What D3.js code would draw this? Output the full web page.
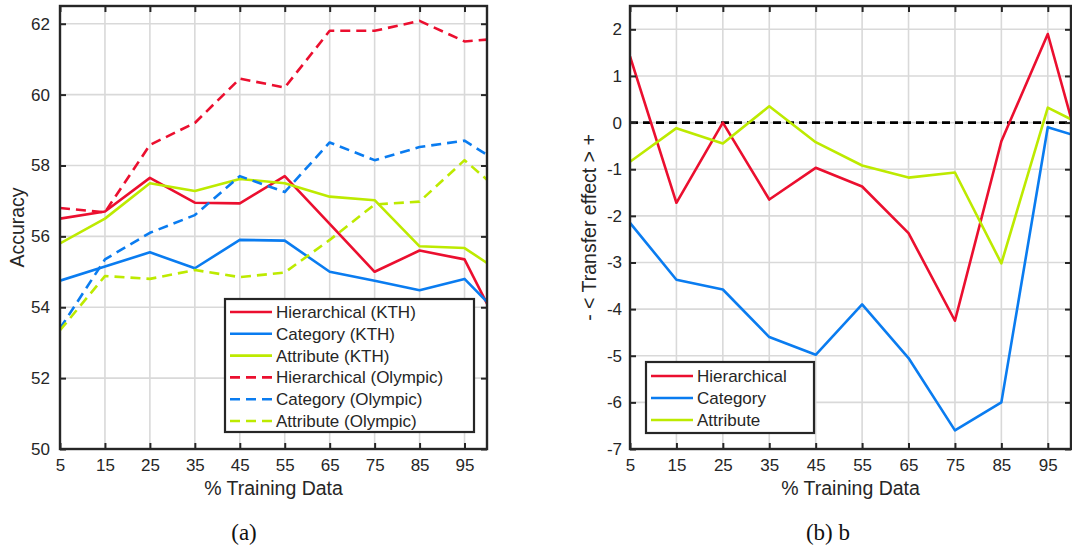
<!DOCTYPE html>
<html>
<head>
<meta charset="utf-8">
<script src="https://cdn.jsdelivr.net/npm/d3@7"></script>
<style>
  html, body { margin: 0; padding: 0; background: #fff; }
  svg { display: block; }
  text { font-family: "Liberation Sans", Arial, sans-serif; fill: #262626; }
  text.caption { font-family: "Liberation Serif", "Times New Roman", serif; fill: #111; }
</style>
</head>
<body>
<svg id="chart" width="1072" height="554"></svg>
<script>
// Training-set sizes (%)
const trainPct = [5, 15, 25, 35, 45, 55, 65, 75, 85, 95, 100];
const xTicks = [5, 15, 25, 35, 45, 55, 65, 75, 85, 95];

// (a) accuracy per model
const hierKTH   = [56.5, 56.7, 57.65, 56.95, 56.93, 57.7, 56.35, 55.0, 55.6, 55.35, 54.1];
const catKTH    = [54.75, 55.15, 55.55, 55.1, 55.9, 55.88, 55.0, 54.75, 54.48, 54.8, 54.15];
const attrKTH   = [55.8, 56.5, 57.5, 57.28, 57.62, 57.5, 57.12, 57.02, 55.72, 55.67, 55.25];
const hierOly   = [56.8, 56.68, 58.58, 59.2, 60.45, 60.2, 61.8, 61.8, 62.08, 61.5, 61.55];
const catOly    = [53.4, 55.35, 56.1, 56.6, 57.7, 57.25, 58.65, 58.15, 58.52, 58.7, 58.3];
const attrOly   = [53.35, 54.88, 54.8, 55.05, 54.85, 54.98, 55.9, 56.9, 56.98, 58.15, 57.6];
const accTicks  = [50, 52, 54, 56, 58, 60, 62];

// (b) transfer effect per model
const hierEffect = [1.42, -1.72, 0.0, -1.65, -0.97, -1.37, -2.37, -4.25, -0.4, 1.9, 0.1];
const catEffect  = [-2.15, -3.37, -3.58, -4.6, -4.98, -3.9, -5.05, -6.6, -6.0, -0.1, -0.25];
const attrEffect = [-0.84, -0.12, -0.45, 0.35, -0.42, -0.92, -1.18, -1.07, -3.02, 0.32, 0.07];
const effectTicks = [-7, -6, -5, -4, -3, -2, -1, 0, 1, 2];

const RED = "#eb0f2f", BLUE = "#0a7cf0", GREEN = "#bdea00";
const AXIS = "#262626", GRID = "#d9d9d9";

const svg = d3.select("#chart");

function drawPanel(cfg) {
  const { left, right, top, bottom, xDomain, yDomain, yTicks, series, yLabel, yLabelX, tickGap, clipId } = cfg;
  const x = d3.scaleLinear().domain(xDomain).range([left, right]);
  const y = d3.scaleLinear().domain(yDomain).range([bottom, top]);
  const g = svg.append("g");

  // grid
  g.append("g").selectAll("line").data(xTicks).join("line")
    .attr("x1", d => x(d)).attr("x2", d => x(d))
    .attr("y1", top).attr("y2", bottom)
    .attr("stroke", GRID).attr("stroke-width", 1.6);
  g.append("g").selectAll("line").data(yTicks).join("line")
    .attr("x1", left).attr("x2", right)
    .attr("y1", d => y(d)).attr("y2", d => y(d))
    .attr("stroke", GRID).attr("stroke-width", 1.6);

  // clip to plotting box
  svg.append("clipPath").attr("id", clipId)
    .append("rect").attr("x", left).attr("y", top)
    .attr("width", right - left).attr("height", bottom - top);

  const plot = g.append("g").attr("clip-path", `url(#${clipId})`);
  if (cfg.zeroLine) {
    plot.append("line")
      .attr("x1", left).attr("x2", right)
      .attr("y1", y(0)).attr("y2", y(0))
      .attr("stroke", "#000").attr("stroke-width", 2.6)
      .attr("stroke-dasharray", "8,5");
  }
  const line = d3.line().x((d, i) => x(trainPct[i])).y(d => y(d));
  series.forEach(s => {
    plot.append("path").datum(s.values)
      .attr("d", line)
      .attr("fill", "none")
      .attr("stroke", s.color)
      .attr("stroke-width", 2.6)
      .attr("stroke-linejoin", "round")
      .attr("stroke-dasharray", s.dashed ? "10,6" : null);
  });

  // box frame with inward ticks on all sides
  const axG = g.append("g");
  const xb = d3.axisBottom(x).tickValues(xTicks).tickSizeInner(-6).tickSizeOuter(0).tickPadding(10).tickFormat(d3.format("d"));
  const xt = d3.axisTop(x).tickValues(xTicks).tickSizeInner(-6).tickSizeOuter(0).tickFormat("");
  const yl = d3.axisLeft(y).tickValues(yTicks).tickSizeInner(-6).tickSizeOuter(0).tickPadding(tickGap)
    .tickFormat(d => (d < 0 ? "-" + Math.abs(d) : String(d)));
  const yr = d3.axisRight(y).tickValues(yTicks).tickSizeInner(-6).tickSizeOuter(0).tickFormat("");
  [[xb, `translate(0,${bottom})`], [xt, `translate(0,${top})`], [yl, `translate(${left},0)`], [yr, `translate(${right},0)`]]
    .forEach(([ax, tr]) => {
      const a = axG.append("g").attr("transform", tr).call(ax);
      a.select(".domain").remove();
      a.selectAll(".tick line").attr("stroke", AXIS).attr("stroke-width", 2);
      a.selectAll(".tick text").attr("font-size", 17).attr("fill", AXIS)
        .attr("font-family", "'Liberation Sans', Arial, sans-serif");
    });
  axG.append("rect").attr("x", left).attr("y", top)
    .attr("width", right - left).attr("height", bottom - top)
    .attr("fill", "none").attr("stroke", AXIS).attr("stroke-width", 2.4);

  // axis titles
  g.append("text").attr("x", (left + right) / 2).attr("y", 495)
    .attr("text-anchor", "middle").attr("font-size", 19.5).text("% Training Data");
  g.append("text")
    .attr("transform", `translate(${yLabelX},${(top + bottom) / 2}) rotate(-90)`)
    .attr("text-anchor", "middle").attr("dy", "0.35em")
    .attr("font-size", 19.5).text(yLabel);

  // legend
  const L = cfg.legend;
  const lg = g.append("g");
  lg.append("rect").attr("x", L.x).attr("y", L.y).attr("width", L.w).attr("height", L.h)
    .attr("fill", "#fff").attr("stroke", AXIS).attr("stroke-width", 2.2);
  series.forEach((s, i) => {
    const cy = L.y + L.first + i * L.step;
    lg.append("line").attr("x1", L.x + 5).attr("x2", L.x + 47)
      .attr("y1", cy).attr("y2", cy)
      .attr("stroke", s.color).attr("stroke-width", 2.6)
      .attr("stroke-dasharray", s.dashed ? "10,6" : null);
    lg.append("text").attr("x", L.x + 51).attr("y", cy).attr("dy", "0.35em")
      .attr("font-size", 17).text(s.name);
  });

  // sub-caption
  g.append("text").attr("class", "caption")
    .attr("x", cfg.captionX).attr("y", 540)
    .attr("text-anchor", "middle")
    .attr("font-size", 23).text(cfg.caption);
}

drawPanel({
  left: 60, right: 487, top: 6, bottom: 449,
  xDomain: [5, 100], yDomain: [50, 62.5], yTicks: accTicks,
  yLabel: "Accuracy", yLabelX: 17, tickGap: 10, clipId: "clipA",
  series: [
    { name: "Hierarchical (KTH)", values: hierKTH, color: RED },
    { name: "Category (KTH)", values: catKTH, color: BLUE },
    { name: "Attribute (KTH)", values: attrKTH, color: GREEN },
    { name: "Hierarchical (Olympic)", values: hierOly, color: RED, dashed: true },
    { name: "Category (Olympic)", values: catOly, color: BLUE, dashed: true },
    { name: "Attribute (Olympic)", values: attrOly, color: GREEN, dashed: true }
  ],
  legend: { x: 225, y: 299, w: 249, h: 133, first: 13, step: 21.8 },
  caption: "(a)", captionX: 244
});

drawPanel({
  left: 630, right: 1071, top: 6, bottom: 449,
  xDomain: [5, 100], yDomain: [-7, 2.5], yTicks: effectTicks,
  yLabel: "- < Transfer effect > +", yLabelX: 589, tickGap: 8, clipId: "clipB",
  zeroLine: true,
  series: [
    { name: "Hierarchical", values: hierEffect, color: RED },
    { name: "Category", values: catEffect, color: BLUE },
    { name: "Attribute", values: attrEffect, color: GREEN }
  ],
  legend: { x: 646, y: 362, w: 168, h: 71, first: 14, step: 22 },
  caption: "(b) b", captionX: 828
});
</script>
</body>
</html>
